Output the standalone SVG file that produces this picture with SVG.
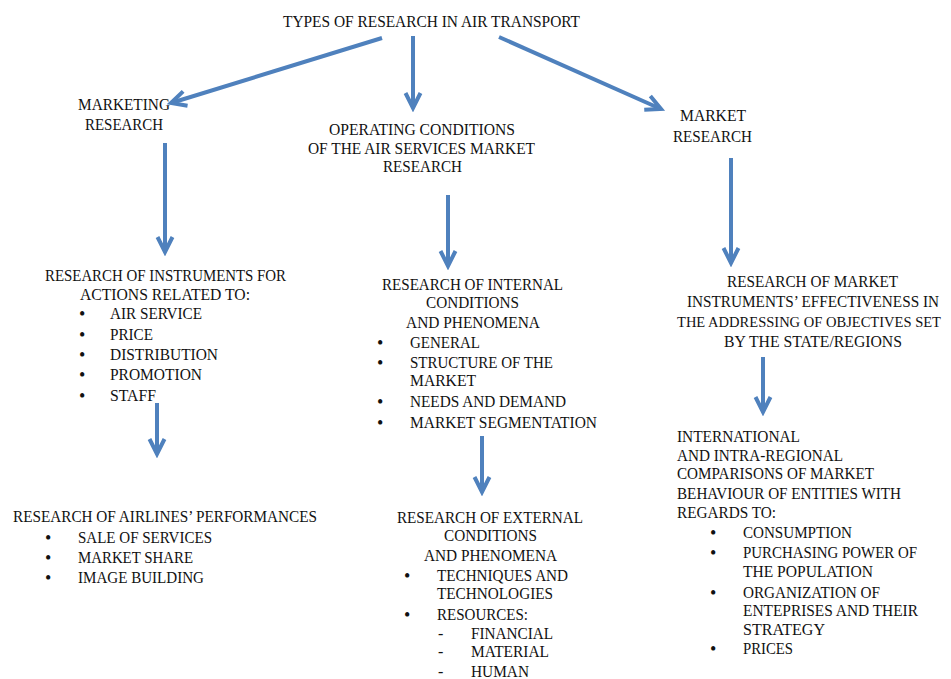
<svg xmlns="http://www.w3.org/2000/svg" width="951" height="679" viewBox="0 0 951 679" font-family="'Liberation Serif', 'Times New Roman', 'DejaVu Serif', serif">
<style>
text{font-family:"Liberation Serif","Times New Roman","DejaVu Serif",serif;font-size:16px;fill:#111}
.b{font-size:18px}
.c line{stroke:#4f81bd;stroke-width:4;fill:none;marker-end:url(#ah)}
</style>
<defs>
<marker id="ah" markerUnits="userSpaceOnUse" viewBox="-20 -10 24 20" markerWidth="24" markerHeight="20" refX="0" refY="0" orient="auto">
<path d="M-15,-7.5 L0,0 L-15,7.5" fill="none" stroke="#4f81bd" stroke-width="4" stroke-linejoin="miter"/>
</marker>
</defs>
<rect width="951" height="679" fill="#fff"/>
<g class="c" id="connectors">
<line x1="382" y1="38" x2="171" y2="103"/>
<line x1="413" y1="36" x2="413" y2="108"/>
<line x1="499" y1="37" x2="661" y2="109"/>
<line x1="165" y1="143" x2="165" y2="252"/>
<line x1="448" y1="195" x2="448" y2="266"/>
<line x1="731" y1="158" x2="731" y2="263"/>
<line x1="157" y1="403" x2="157" y2="454"/>
<line x1="482" y1="436" x2="482" y2="492"/>
<line x1="763" y1="357" x2="763" y2="412"/>
</g>
<g id="title"><text x="283" y="27" textLength="297" lengthAdjust="spacingAndGlyphs">TYPES OF RESEARCH IN AIR TRANSPORT</text></g>
<g id="marketing">
<text x="78" y="110" textLength="92" lengthAdjust="spacingAndGlyphs">MARKETING</text>
<text x="85" y="130" textLength="78" lengthAdjust="spacingAndGlyphs">RESEARCH</text>
</g>
<g id="operating">
<text x="329" y="135" textLength="186" lengthAdjust="spacingAndGlyphs">OPERATING CONDITIONS</text>
<text x="308" y="154" textLength="227" lengthAdjust="spacingAndGlyphs">OF THE AIR SERVICES MARKET</text>
<text x="383" y="172" textLength="79" lengthAdjust="spacingAndGlyphs">RESEARCH</text>
</g>
<g id="market">
<text x="680" y="121" textLength="66" lengthAdjust="spacingAndGlyphs">MARKET</text>
<text x="673" y="142" textLength="79" lengthAdjust="spacingAndGlyphs">RESEARCH</text>
</g>
<g id="instruments">
<text x="45" y="281" textLength="241" lengthAdjust="spacingAndGlyphs">RESEARCH OF INSTRUMENTS FOR</text>
<text x="80" y="300" textLength="170" lengthAdjust="spacingAndGlyphs">ACTIONS RELATED TO:</text>
<text class="b" x="79" y="320">•</text><text x="110" y="319" textLength="92" lengthAdjust="spacingAndGlyphs">AIR SERVICE</text>
<text class="b" x="79" y="341">•</text><text x="110" y="340" textLength="43" lengthAdjust="spacingAndGlyphs">PRICE</text>
<text class="b" x="79" y="361">•</text><text x="110" y="360" textLength="108" lengthAdjust="spacingAndGlyphs">DISTRIBUTION</text>
<text class="b" x="79" y="381">•</text><text x="110" y="380" textLength="92" lengthAdjust="spacingAndGlyphs">PROMOTION</text>
<text class="b" x="79" y="402">•</text><text x="110" y="401" textLength="46" lengthAdjust="spacingAndGlyphs">STAFF</text>
</g>
<g id="internal">
<text x="382" y="290" textLength="181" lengthAdjust="spacingAndGlyphs">RESEARCH OF INTERNAL</text>
<text x="426" y="308" textLength="93" lengthAdjust="spacingAndGlyphs">CONDITIONS</text>
<text x="406" y="328" textLength="134" lengthAdjust="spacingAndGlyphs">AND PHENOMENA</text>
<text class="b" x="377" y="349">•</text><text x="410" y="348" textLength="70" lengthAdjust="spacingAndGlyphs">GENERAL</text>
<text class="b" x="377" y="369">•</text><text x="410" y="368" textLength="143" lengthAdjust="spacingAndGlyphs">STRUCTURE OF THE</text>
<text x="410" y="386" textLength="66" lengthAdjust="spacingAndGlyphs">MARKET</text>
<text class="b" x="377" y="408">•</text><text x="410" y="407" textLength="156" lengthAdjust="spacingAndGlyphs">NEEDS AND DEMAND</text>
<text class="b" x="377" y="429">•</text><text x="410" y="428" textLength="187" lengthAdjust="spacingAndGlyphs">MARKET SEGMENTATION</text>
</g>
<g id="effectiveness">
<text x="727" y="287" textLength="171" lengthAdjust="spacingAndGlyphs">RESEARCH OF MARKET</text>
<text x="687" y="307" textLength="252" lengthAdjust="spacingAndGlyphs">INSTRUMENTS’ EFFECTIVENESS IN</text>
<text x="677" y="327" style="font-size:14.5px" textLength="264" lengthAdjust="spacingAndGlyphs">THE ADDRESSING OF OBJECTIVES SET</text>
<text x="724" y="347" textLength="178" lengthAdjust="spacingAndGlyphs">BY THE STATE/REGIONS</text>
</g>
<g id="airlines">
<text x="13" y="522" textLength="304" lengthAdjust="spacingAndGlyphs">RESEARCH OF AIRLINES’ PERFORMANCES</text>
<text class="b" x="45" y="544">•</text><text x="78" y="543" textLength="134" lengthAdjust="spacingAndGlyphs">SALE OF SERVICES</text>
<text class="b" x="45" y="564">•</text><text x="78" y="563" textLength="115" lengthAdjust="spacingAndGlyphs">MARKET SHARE</text>
<text class="b" x="45" y="584">•</text><text x="78" y="583" textLength="126" lengthAdjust="spacingAndGlyphs">IMAGE BUILDING</text>
</g>
<g id="external">
<text x="397" y="523" textLength="186" lengthAdjust="spacingAndGlyphs">RESEARCH OF EXTERNAL</text>
<text x="444" y="541" textLength="93" lengthAdjust="spacingAndGlyphs">CONDITIONS</text>
<text x="424" y="561" textLength="133" lengthAdjust="spacingAndGlyphs">AND PHENOMENA</text>
<text class="b" x="404" y="582">•</text><text x="437" y="581" textLength="131" lengthAdjust="spacingAndGlyphs">TECHNIQUES AND</text>
<text x="437" y="599" textLength="116" lengthAdjust="spacingAndGlyphs">TECHNOLOGIES</text>
<text class="b" x="404" y="621">•</text><text x="437" y="620" textLength="91" lengthAdjust="spacingAndGlyphs">RESOURCES:</text>
<text x="438" y="639">-</text><text x="471" y="639" textLength="82" lengthAdjust="spacingAndGlyphs">FINANCIAL</text>
<text x="438" y="657">-</text><text x="471" y="657" textLength="78" lengthAdjust="spacingAndGlyphs">MATERIAL</text>
<text x="438" y="677">-</text><text x="471" y="677" textLength="58" lengthAdjust="spacingAndGlyphs">HUMAN</text>
</g>
<g id="comparisons">
<text x="677" y="442" textLength="123" lengthAdjust="spacingAndGlyphs">INTERNATIONAL</text>
<text x="677" y="461" textLength="166" lengthAdjust="spacingAndGlyphs">AND INTRA-REGIONAL</text>
<text x="677" y="479" textLength="197" lengthAdjust="spacingAndGlyphs">COMPARISONS OF MARKET</text>
<text x="677" y="499" textLength="224" lengthAdjust="spacingAndGlyphs">BEHAVIOUR OF ENTITIES WITH</text>
<text x="677" y="518" textLength="99" lengthAdjust="spacingAndGlyphs">REGARDS TO:</text>
<text class="b" x="710" y="539">•</text><text x="743" y="538" textLength="109" lengthAdjust="spacingAndGlyphs">CONSUMPTION</text>
<text class="b" x="710" y="559">•</text><text x="743" y="558" textLength="174" lengthAdjust="spacingAndGlyphs">PURCHASING POWER OF</text>
<text x="743" y="577" textLength="130" lengthAdjust="spacingAndGlyphs">THE POPULATION</text>
<text class="b" x="710" y="599">•</text><text x="743" y="598" textLength="137" lengthAdjust="spacingAndGlyphs">ORGANIZATION OF</text>
<text x="743" y="616" textLength="175" lengthAdjust="spacingAndGlyphs">ENTEPRISES AND THEIR</text>
<text x="743" y="635" textLength="82" lengthAdjust="spacingAndGlyphs">STRATEGY</text>
<text class="b" x="710" y="655">•</text><text x="743" y="654" textLength="50" lengthAdjust="spacingAndGlyphs">PRICES</text>
</g>
</svg>
